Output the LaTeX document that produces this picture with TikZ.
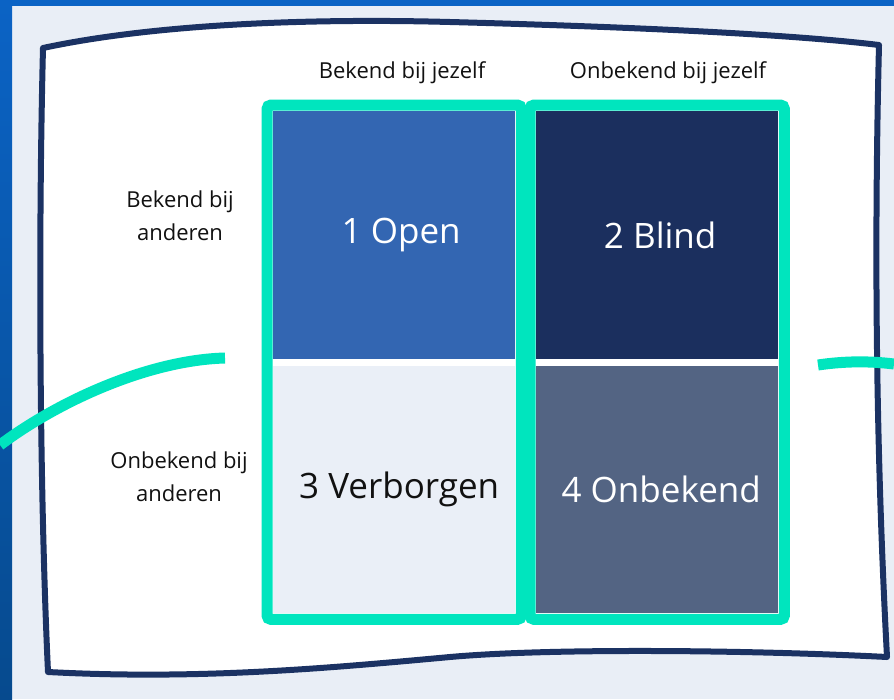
\documentclass[tikz,border=0pt]{standalone}
\usepackage{fontspec}
\setmainfont{Open Sans}
\usetikzlibrary{fit}
\definecolor{bgc}{HTML}{E9EEF6}
\definecolor{bandc}{HTML}{0B63C5}
\definecolor{bandd}{HTML}{064A8E}
\definecolor{navyc}{HTML}{1B3263}
\definecolor{greenc}{HTML}{00E5BE}
\definecolor{openc}{HTML}{3366B2}
\definecolor{blindc}{HTML}{1B2F5E}
\definecolor{verbc}{HTML}{EAEFF7}
\definecolor{onbc}{HTML}{536483}
\definecolor{inkc}{HTML}{111111}
\begin{document}
\begin{tikzpicture}[x=1pt,y=-1pt,
  cellbox/.style={draw=none, minimum width=242pt, inner sep=0pt, anchor=north west,
    font=\fontsize{35}{40}\selectfont},
  framebox/.style={draw=greenc, line width=11pt, rounded corners=4pt, inner sep=6pt},
  headtxt/.style={font=\fontsize{22}{26}\selectfont, text=inkc},
  sidetxt/.style={font=\fontsize{22}{33}\selectfont, text=inkc, align=center},
  arcline/.style={draw=greenc, line width=11pt, line cap=butt},
  sheetline/.style={draw=navyc, fill=white, line width=6pt, line join=round}
]
\useasboundingbox (0,0) rectangle (894,699);
% background
\fill[bgc] (0,0) rectangle (894,699);
\shade[top color=bandc, bottom color=bandd] (0,0) rectangle (12,699);
\fill[bandc] (0,0) rectangle (894,6);
% sheet
\draw[sheetline] (43,48) .. controls (150,25) and (300,18) .. (450,22)
  .. controls (600,26) and (780,33) .. (879,45)
  .. controls (874,250) and (876,450) .. (887,657)
  .. controls (750,650) and (550,648) .. (450,657)
  .. controls (330,668) and (200,680) .. (48,672)
  .. controls (40,500) and (38,250) .. cycle;
% cells
\node[cellbox, fill=openc, text=white, minimum height=248pt] (open) at (273,111) {\hspace*{14pt}1 Open};
\node[cellbox, fill=blindc, text=white, minimum height=248pt] (blind) at (536,111) {\hspace*{6pt}2 Blind};
\node[cellbox, fill=verbc, text=inkc, minimum height=247pt] (verb) at (273,366) {\hspace*{10pt}3 Verborgen};
\node[cellbox, fill=onbc, text=white, minimum height=247pt] (onb) at (536,366) {\hspace*{8pt}4 Onbekend};
% column frames
\node[framebox, fit=(open)(verb)] (frameL) {};
\node[framebox, fit=(blind)(onb)] (frameR) {};
% headers
\node[headtxt] (headL) at (402,73) {Bekend bij jezelf};
\node[headtxt] (headR) at (668,73) {Onbekend bij jezelf};
\node[sidetxt] (sideT) at (180,216) {Bekend bij\\anderen};
\node[sidetxt] (sideB) at (179,477) {Onbekend bij\\anderen};
% green arcs
\draw[arcline] (225,358) .. controls (150,360) and (60,400) .. (0,445);
\draw[arcline] (818,365) .. controls (845,361) and (870,361) .. (894,364);
\end{tikzpicture}
\end{document}
